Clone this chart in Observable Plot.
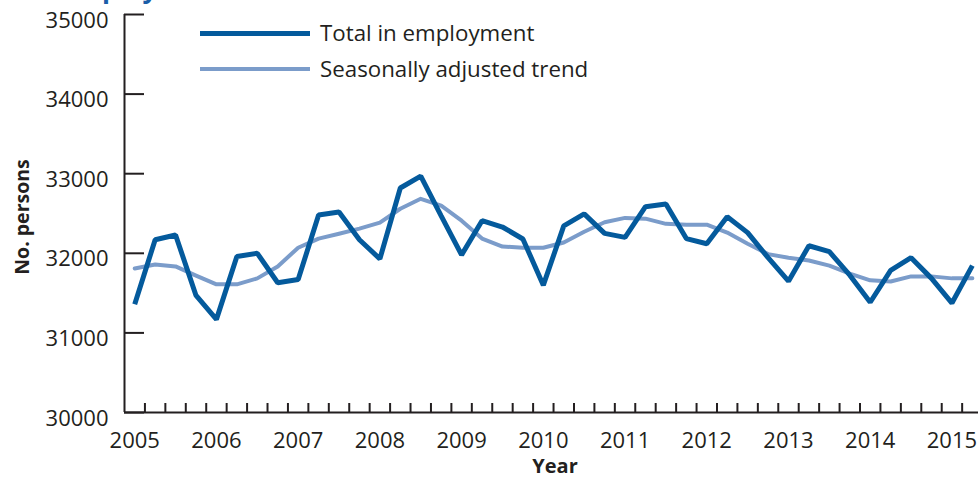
<!DOCTYPE html>
<html>
<head>
<meta charset="utf-8">
<script src="https://cdn.jsdelivr.net/npm/d3@7"></script>
<script src="https://cdn.jsdelivr.net/npm/@observablehq/plot@0.6"></script>
<style>
  html, body { margin: 0; padding: 0; background: #fff; }
  #wrap { position: relative; width: 978px; height: 480px; overflow: hidden; font-family: "Open Sans", sans-serif; color: #231f20; }
  #chart { position: absolute; left: 0; top: 0; }
  .title { position: absolute; left: 62px; top: -25px; font-size: 26px; line-height: 1; font-weight: 700; color: #1a5ea8; white-space: nowrap; }
  .sw { position: absolute; left: 200px; width: 110px; }
  .lt { position: absolute; left: 320px; font-size: 22.3px; line-height: 1; white-space: nowrap; }
  .ylab { position: absolute; left: 22px; top: 217px; transform: translate(-50%, -50%) rotate(-90deg); font-size: 19.5px; line-height: 1; font-weight: 700; white-space: nowrap; }
  .xlab { position: absolute; left: 555px; top: 466px; transform: translate(-50%, -50%); font-size: 20px; line-height: 1; font-weight: 700; white-space: nowrap; }
</style>
</head>
<body>
<div id="wrap">
  <div id="chart"></div>
  <div class="title">Employment</div>
  <div class="sw" style="top:31px;height:5px;background:#045a9c;"></div>
  <div class="lt" style="top:22px;">Total in employment</div>
  <div class="sw" style="top:67px;height:4px;background:#7b9cca;"></div>
  <div class="lt" style="top:58px;">Seasonally adjusted trend</div>
  <div class="ylab">No. persons</div>
  <div class="xlab">Year</div>
</div>
<script>
// Years (first quarter of each year gets a label)
const years = ["2005","2006","2007","2008","2009","2010","2011","2012","2013","2014","2015"];
// Quarterly total in employment, 2005 Q1 – 2015 Q2
const total = [31360, 32170, 32230, 31470, 31170, 31960, 32000, 31630, 31670, 32480, 32520, 32170,
               31930, 32820, 32970, 32470, 31980, 32410, 32330, 32180, 31600, 32345, 32495, 32250,
               32200, 32585, 32620, 32185, 32120, 32460, 32260, 31945, 31650, 32095, 32020, 31725,
               31385, 31785, 31945, 31685, 31375, 31845];
// Seasonally adjusted trend
const trend = [31810, 31860, 31835, 31720, 31610, 31610, 31685, 31835, 32070, 32185, 32245, 32310,
               32385, 32560, 32685, 32600, 32410, 32185, 32085, 32070, 32070, 32135, 32270, 32390,
               32445, 32435, 32370, 32360, 32360, 32260, 32120, 31990, 31945, 31910, 31845, 31745,
               31660, 31645, 31710, 31710, 31685, 31685];
const yTicks = [30000, 31000, 32000, 33000, 34000, 35000];

const rows = total.map((v, i) => ({i, total: v, trend: trend[i]}));
const yearIdx = years.map((y, k) => k * 4);
const quarterBounds = d3.range(total.length - 1).map(i => i + 0.5);
const xDomain = [-0.5, total.length - 0.7];

const dark = "#045a9c";
const light = "#7b9cca";
const ink = "#231f20";

const chart = Plot.plot({
  width: 978,
  height: 480,
  marginTop: 14,
  marginBottom: 68,
  marginLeft: 124,
  marginRight: 0,
  style: { fontFamily: "'Open Sans', sans-serif", fontSize: "22px", color: ink, background: "white" },
  x: { type: "linear", domain: xDomain },
  y: { domain: [yTicks[0], yTicks[yTicks.length - 1]] },
  marks: [
    Plot.axisY(yTicks, { tickSize: 0, tickPadding: 16, dy: 6, fontSize: 22, tickFormat: d => String(d), label: null, fill: ink }),
    Plot.axisY(yTicks, { tickSize: -20, text: null, strokeWidth: 2, stroke: ink, label: null }),
    Plot.axisX(quarterBounds, { tickSize: -9, text: null, strokeWidth: 2, stroke: ink, label: null }),
    Plot.axisX(yearIdx, { tickSize: 0, tickPadding: 20, fontSize: 22, tickFormat: i => years[i / 4], label: null, fill: ink }),
    Plot.ruleY([yTicks[0]], { stroke: ink, strokeWidth: 2 }),
    Plot.ruleX([xDomain[0]], { stroke: ink, strokeWidth: 2 }),
    Plot.line(rows, { x: "i", y: "trend", stroke: light, strokeWidth: 4 }),
    Plot.line(rows, { x: "i", y: "total", stroke: dark, strokeWidth: 5, strokeLinejoin: "miter", strokeLinecap: "butt" })
  ]
});
document.getElementById("chart").appendChild(chart);
</script>
</body>
</html>
